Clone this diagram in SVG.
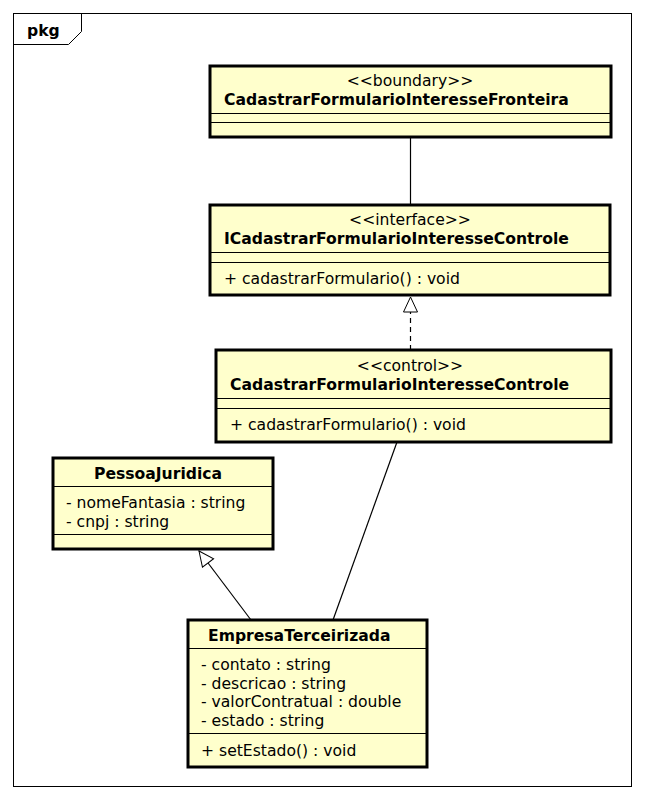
<svg xmlns="http://www.w3.org/2000/svg" width="645" height="801" viewBox="0 0 645 801">
<style>
.box{fill:#ffffcc;stroke:#000;stroke-width:3}
.div{stroke:#000;stroke-width:1}
.t{font-family:"DejaVu Sans",Verdana,sans-serif;font-size:15.6px;fill:#000}
.b{font-weight:bold}
.c{text-anchor:middle}
.ln{stroke:#000;stroke-width:1.2;fill:none}
</style>
<defs>
<marker id="tri" markerWidth="18" markerHeight="16" refX="16" refY="8" orient="auto" markerUnits="userSpaceOnUse">
<path d="M1,1 L16,8 L1,15 Z" fill="#fff" stroke="#000" stroke-width="1"/>
</marker>
</defs>
<rect width="645" height="801" fill="#fff"/>
<g id="frame">
<rect x="13.5" y="13.5" width="618" height="773" fill="none" stroke="#000" stroke-width="1"/>
<path d="M13.5,44.5 L68.5,44.5 L81.5,31.5 L81.5,13.5" fill="none" stroke="#000" stroke-width="1"/>
<text class="t b" x="27" y="36">pkg</text>
</g>
<g id="connectors">
<line class="ln" x1="410.5" y1="137" x2="410.5" y2="205"/>
<line class="ln" x1="410.5" y1="350" x2="410.5" y2="297" stroke-dasharray="5,4" marker-end="url(#tri)"/>
<line class="ln" x1="397" y1="442" x2="333" y2="620"/>
<line class="ln" x1="251" y1="620" x2="199" y2="551" marker-end="url(#tri)"/>
</g>
<g id="boundary">
<rect class="box" x="210" y="66" width="401" height="71"/>
<text class="t c" x="410" y="86">&lt;&lt;boundary&gt;&gt;</text>
<text class="t b" x="224" y="105">CadastrarFormularioInteresseFronteira</text>
<line class="div" x1="210" y1="113.5" x2="611" y2="113.5"/>
<line class="div" x1="210" y1="122.5" x2="611" y2="122.5"/>
</g>
<g id="interface">
<rect class="box" x="210" y="205" width="400" height="90"/>
<text class="t c" x="410" y="225">&lt;&lt;interface&gt;&gt;</text>
<text class="t b" x="224" y="244">ICadastrarFormularioInteresseControle</text>
<line class="div" x1="210" y1="252.5" x2="610" y2="252.5"/>
<line class="div" x1="210" y1="262.5" x2="610" y2="262.5"/>
<text class="t" x="224" y="284">+ cadastrarFormulario() : void</text>
</g>
<g id="control">
<rect class="box" x="216" y="350" width="395" height="92"/>
<text class="t c" x="410" y="371">&lt;&lt;control&gt;&gt;</text>
<text class="t b" x="230" y="390">CadastrarFormularioInteresseControle</text>
<line class="div" x1="216" y1="398.5" x2="611" y2="398.5"/>
<line class="div" x1="216" y1="408.5" x2="611" y2="408.5"/>
<text class="t" x="230" y="430">+ cadastrarFormulario() : void</text>
</g>
<g id="pessoa">
<rect class="box" x="53" y="458" width="220" height="91"/>
<text class="t b c" x="158" y="479">PessoaJuridica</text>
<line class="div" x1="53" y1="486.5" x2="273" y2="486.5"/>
<text class="t" x="66" y="508">- nomeFantasia : string</text>
<text class="t" x="66" y="527">- cnpj : string</text>
<line class="div" x1="53" y1="534.5" x2="273" y2="534.5"/>
</g>
<g id="empresa">
<rect class="box" x="188" y="620" width="239" height="147"/>
<text class="t b" x="208" y="641">EmpresaTerceirizada</text>
<line class="div" x1="188" y1="648.5" x2="427" y2="648.5"/>
<text class="t" x="201" y="670">- contato : string</text>
<text class="t" x="201" y="689">- descricao : string</text>
<text class="t" x="201" y="707">- valorContratual : double</text>
<text class="t" x="201" y="726">- estado : string</text>
<line class="div" x1="188" y1="733.5" x2="427" y2="733.5"/>
<text class="t" x="201" y="756">+ setEstado() : void</text>
</g>
</svg>
